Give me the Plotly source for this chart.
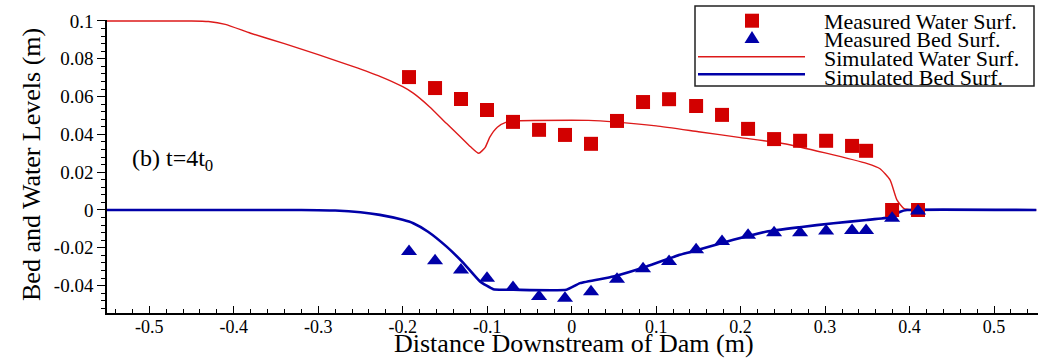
import plotly.graph_objects as go

# ---------------- data ----------------
meas_x = [-0.1925, -0.1617, -0.131, -0.1002, -0.0694, -0.0386, -0.0079, 0.0229, 0.0537, 0.0845,
          0.1153, 0.1473, 0.178, 0.2088, 0.2396, 0.2704, 0.3012, 0.3319, 0.3485, 0.3793, 0.41]
meas_water = [0.0703, 0.0645, 0.0587, 0.0529, 0.0466, 0.0424, 0.0397, 0.0350, 0.0471, 0.0571,
              0.0586, 0.0550, 0.0503, 0.0429, 0.0375, 0.0366, 0.0366, 0.0339, 0.0313, 0.0, 0.0]
meas_bed = [-0.0220, -0.0269, -0.0317, -0.0361, -0.0410, -0.0458, -0.0467, -0.0433, -0.0366, -0.0311,
            -0.0273, -0.0211, -0.0167, -0.0134, -0.0121, -0.0120, -0.0111, -0.0108, -0.0108, -0.0044, -0.0005]

sim_water_x = [-0.55, -0.45, -0.43, -0.41, -0.38, -0.34, -0.30, -0.26, -0.227, -0.2, -0.1875, -0.168, -0.148,
               -0.13, -0.12, -0.11, -0.1025, -0.0967, -0.088, -0.078, -0.065, 0.0, 0.02, 0.05, 0.10, 0.15,
               0.20, 0.25, 0.30, 0.35, 0.365, 0.377, 0.385, 0.393, 0.404, 0.55]
sim_water_y = [0.1, 0.1, 0.0997, 0.0982, 0.0935, 0.0880, 0.0822, 0.0761, 0.0707, 0.0652, 0.0618, 0.0545, 0.0457,
               0.0380, 0.0336, 0.0300, 0.0330, 0.0387, 0.0438, 0.0463, 0.0472, 0.0475, 0.0474, 0.0466, 0.0445,
               0.0414, 0.0383, 0.0352, 0.0302, 0.0245, 0.0218, 0.0158, 0.0053, 0.0009, 0.0, 0.0]

sim_bed_x = [-0.55, -0.32, -0.28, -0.25, -0.227, -0.2, -0.1875, -0.17, -0.148, -0.128, -0.1085, -0.0927,
             -0.08, -0.069, -0.006, 0.0099, 0.0493, 0.0888, 0.128, 0.152, 0.1914, 0.231, 0.270, 0.310,
             0.349, 0.377, 0.389, 0.397, 0.55]
sim_bed_y = [0.0, 0.0, -0.0003, -0.0012, -0.0026, -0.0052, -0.007, -0.0115, -0.0194, -0.0281, -0.0378, -0.0419,
             -0.0422, -0.0422, -0.0422, -0.0387, -0.0352, -0.0299, -0.0237, -0.0208, -0.0158, -0.0114, -0.0091, -0.0070,
             -0.0053, -0.0039, -0.0009, 0.0, 0.0]

x_tickvals = [-0.5, -0.4, -0.3, -0.2, -0.1, 0.0, 0.1, 0.2, 0.3, 0.4, 0.5]
x_ticktext = ["-0.5", "-0.4", "-0.3", "-0.2", "-0.1", "0", "0.1", "0.2", "0.3", "0.4", "0.5"]
y_tickvals = [-0.04, -0.02, 0.0, 0.02, 0.04, 0.06, 0.08, 0.1]
y_ticktext = ["-0.04", "-0.02", "0", "0.02", "0.04", "0.06", "0.08", "0.1"]

legend_names = ["Measured Water Surf.", "Measured Bed Surf.", "Simulated Water Surf.", "Simulated Bed Surf."]
x_title = "Distance Downstream of Dam (m)"
y_title = "Bed and Water Levels (m)"
panel_label = "(b) t=4t<sub>0</sub>"

RED = "#d20000"
RED_LINE = "#dd1a1a"
BLUE = "#0000a8"
FONT = "Liberation Serif"

W, H = 1041, 359
ML, MR, MT, MB = 107, 3, 20, 46


def fx(px):
    return (px - ML) / (W - ML - MR)


def fy(py):
    return (H - MB - py) / (H - MT - MB)


fig = go.Figure()
fig.add_trace(go.Scatter(x=sim_water_x, y=sim_water_y, mode="lines", name=legend_names[2],
                         line=dict(color=RED_LINE, width=1.4, shape="spline", smoothing=0.5),
                         showlegend=False))
fig.add_trace(go.Scatter(x=sim_bed_x, y=sim_bed_y, mode="lines", name=legend_names[3],
                         line=dict(color=BLUE, width=2.6, shape="spline", smoothing=0.4),
                         showlegend=False))
fig.add_trace(go.Scatter(x=meas_x, y=meas_water, mode="markers", name=legend_names[0],
                         marker=dict(symbol="square", size=14, color=RED, line=dict(width=0)),
                         showlegend=False))
fig.add_trace(go.Scatter(x=meas_x, y=meas_bed, mode="markers", name=legend_names[1],
                         marker=dict(symbol="triangle-up", size=14, color=BLUE, line=dict(width=0)),
                         showlegend=False))

# ---- manual legend (box, glyphs, texts) ----
shapes = [
    dict(type="rect", xref="paper", yref="paper", x0=fx(695), x1=fx(1034), y0=fy(86), y1=fy(6),
         line=dict(color="#222222", width=1.5), fillcolor="white", layer="below"),
    dict(type="rect", xref="paper", yref="paper", x0=fx(745), x1=fx(759), y0=fy(27.7), y1=fy(13.7),
         line=dict(width=0), fillcolor=RED),
    dict(type="path", xref="paper", yref="paper",
         path=f"M {fx(744.5)},{fy(43)} L {fx(759.5)},{fy(43)} L {fx(752)},{fy(31)} Z",
         line=dict(width=0), fillcolor=BLUE),
    dict(type="line", xref="paper", yref="paper", x0=fx(698), x1=fx(805), y0=fy(56.7), y1=fy(56.7),
         line=dict(color=RED_LINE, width=1.4)),
    dict(type="line", xref="paper", yref="paper", x0=fx(698), x1=fx(805), y0=fy(74.3), y1=fy(74.3),
         line=dict(color=BLUE, width=2.6)),
]
row_y = [21, 39.5, 58.3, 77]
annotations = []
for name, ry in zip(legend_names, row_y):
    annotations.append(dict(xref="paper", yref="paper", x=fx(822), y=fy(ry), xanchor="left",
                            yanchor="middle", text=name, showarrow=False,
                            font=dict(family=FONT, size=22, color="black")))
annotations.append(dict(xref="paper", yref="paper", x=fx(130), y=fy(160), xanchor="left",
                        yanchor="middle", text=panel_label, showarrow=False,
                        font=dict(family=FONT, size=24, color="black")))
# axis titles placed precisely
annotations.append(dict(xref="paper", yref="paper", x=fx(574), y=fy(343), xanchor="center",
                        yanchor="middle", text=x_title, showarrow=False,
                        font=dict(family=FONT, size=26, color="black")))
annotations.append(dict(xref="paper", yref="paper", x=fx(31), y=fy(165), xanchor="center",
                        yanchor="middle", text=y_title, showarrow=False, textangle=-90,
                        font=dict(family=FONT, size=26, color="black")))

fig.update_layout(
    width=W, height=H,
    margin=dict(l=ML, r=MR, t=MT, b=MB, pad=0, autoexpand=False),
    paper_bgcolor="white", plot_bgcolor="white",
    font=dict(family=FONT, color="black"),
    showlegend=False,
    shapes=shapes,
    annotations=annotations,
    xaxis=dict(range=[-0.55, 0.552], showgrid=False, zeroline=False, automargin=False,
               showline=True, linecolor="black", linewidth=1.6,
               ticks="inside", ticklen=7, tickwidth=1.3, tickcolor="black",
               tickvals=x_tickvals, ticktext=x_ticktext, ticklabelstandoff=-3,
               tickfont=dict(family=FONT, size=18, color="black"),
               minor=dict(ticks="inside", ticklen=4, tickwidth=1, tickcolor="black", dtick=0.02,
                          tick0=0, showgrid=False)),
    yaxis=dict(range=[-0.0545, 0.1005], showgrid=False, zeroline=False, automargin=False,
               showline=True, linecolor="black", linewidth=1.6,
               ticks="outside", ticklen=8, tickwidth=1.3, tickcolor="black",
               tickvals=y_tickvals, ticktext=y_ticktext,
               tickfont=dict(family=FONT, size=19, color="black"),
               minor=dict(ticks="outside", ticklen=4, tickwidth=1, tickcolor="black", dtick=0.004,
                          tick0=0, showgrid=False)),
)

fig.write_html("out.html")
